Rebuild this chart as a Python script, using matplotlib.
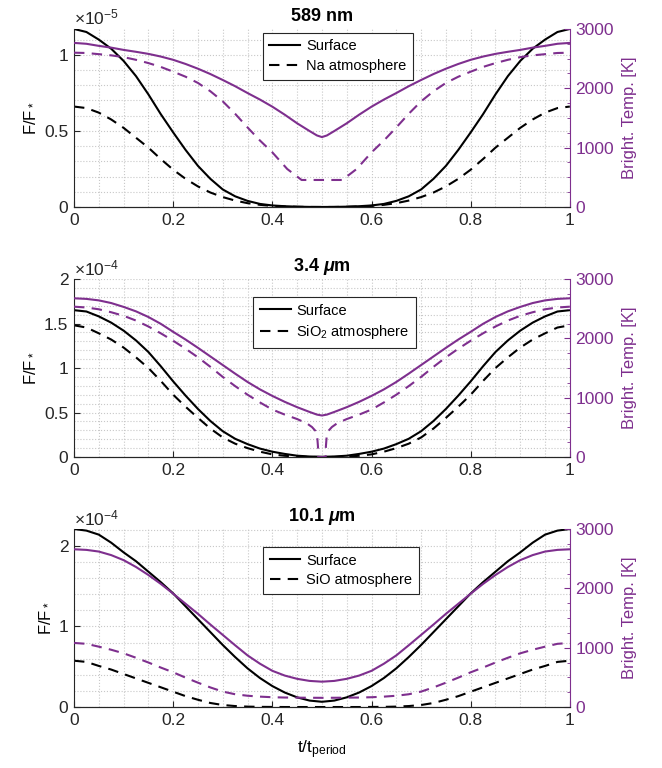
import numpy as np
import matplotlib
matplotlib.use('Agg')
import matplotlib.pyplot as plt
from matplotlib.ticker import FixedLocator, MultipleLocator

plt.rcParams['font.family'] = ['Liberation Sans', 'DejaVu Sans']
plt.rcParams['mathtext.fontset'] = 'custom'
plt.rcParams['mathtext.rm'] = 'Liberation Sans'
plt.rcParams['mathtext.it'] = 'Liberation Sans:italic'
plt.rcParams['mathtext.bf'] = 'Liberation Sans:bold'
plt.rcParams['mathtext.bfit'] = 'Liberation Sans:italic:bold'

PURPLE = '#7E2F8E'

# phase points for the first half of the orbit (curves are symmetric about 0.5)
t = [0, 0.025, 0.05, 0.075, 0.1, 0.125, 0.15, 0.175, 0.2, 0.225, 0.25,
     0.275, 0.3, 0.325, 0.35, 0.375, 0.4, 0.425, 0.45, 0.475, 0.5]

# ---- 589 nm (flux in units of 1e-5, temperature in K)
surf_na = [1.17, 1.15, 1.10, 1.04, 0.96, 0.86, 0.74, 0.61, 0.49, 0.375, 0.27,
           0.185, 0.115, 0.07, 0.04, 0.02, 0.01, 0.005, 0.002, 0.0005, 0.0]
atm_na = [0.66, 0.65, 0.62, 0.575, 0.52, 0.455, 0.39, 0.315, 0.245, 0.185, 0.135,
          0.095, 0.065, 0.042, 0.025, 0.014, 0.007, 0.003, 0.001, 0.0, 0.0]
t_tbs_na = [0, 0.025, 0.05, 0.075, 0.1, 0.125, 0.15, 0.175, 0.2, 0.225, 0.25,
            0.275, 0.3, 0.325, 0.35, 0.375, 0.4, 0.425, 0.45, 0.475, 0.49, 0.5]
tbs_na = [2765, 2750, 2715, 2685, 2647, 2615, 2580, 2535, 2480, 2410, 2330,
          2240, 2140, 2035, 1920, 1810, 1690, 1555, 1410, 1280, 1205, 1178]
t_tba_na = [0, 0.025, 0.05, 0.075, 0.1, 0.125, 0.15, 0.175, 0.2, 0.225, 0.25,
            0.275, 0.3, 0.325, 0.35, 0.375, 0.4, 0.43, 0.459, 0.5]
tba_na = [2600, 2595, 2575, 2555, 2525, 2480, 2425, 2360, 2280, 2195, 2090,
          1950, 1780, 1570, 1340, 1120, 920, 640, 455, 455]

# ---- 3.4 um (flux in units of 1e-4)
surf_sio2 = [1.65, 1.635, 1.58, 1.51, 1.42, 1.31, 1.18, 1.02, 0.85, 0.69, 0.54,
             0.405, 0.29, 0.205, 0.145, 0.095, 0.06, 0.035, 0.015, 0.006, 0.003]
atm_sio2 = [1.48, 1.455, 1.39, 1.32, 1.23, 1.12, 1.0, 0.855, 0.70, 0.565, 0.44,
            0.32, 0.22, 0.15, 0.10, 0.06, 0.03, 0.014, 0.005, 0.001, 0.0]
t_tbs_sio2 = [0, 0.025, 0.05, 0.075, 0.1, 0.125, 0.15, 0.175, 0.2, 0.225, 0.25,
              0.275, 0.3, 0.325, 0.35, 0.375, 0.4, 0.425, 0.45, 0.475, 0.49, 0.5]
tbs_sio2 = [2675, 2665, 2640, 2595, 2530, 2455, 2360, 2245, 2110, 1980, 1840,
            1695, 1550, 1405, 1265, 1140, 1030, 930, 840, 760, 715, 700]
t_tba_sio2 = [0, 0.025, 0.05, 0.075, 0.1, 0.125, 0.15, 0.175, 0.2, 0.225, 0.25,
              0.275, 0.3, 0.325, 0.35, 0.375, 0.4, 0.425, 0.45, 0.47, 0.48, 0.487,
              0.4905, 0.492, 0.4925, 0.5]
tba_sio2 = [2534, 2520, 2490, 2440, 2380, 2300, 2200, 2085, 1960, 1825, 1680,
            1520, 1350, 1195, 1050, 920, 800, 715, 640, 565, 505, 440,
            340, 180, 0, 0]

# ---- 10.1 um (flux in units of 1e-4)
surf_sio = [2.21, 2.19, 2.14, 2.04, 1.92, 1.81, 1.68, 1.55, 1.41, 1.25, 1.09,
            0.93, 0.77, 0.62, 0.48, 0.36, 0.26, 0.18, 0.12, 0.08, 0.065]
atm_sio = [0.575, 0.56, 0.51, 0.465, 0.41, 0.355, 0.30, 0.245, 0.19, 0.135, 0.09,
           0.05, 0.025, 0.012, 0.005, 0.002, 0.001, 0.0, 0.0, 0.0, 0.0]
tbs_sio = [2658, 2648, 2620, 2560, 2475, 2360, 2225, 2075, 1910, 1740, 1570,
           1390, 1215, 1040, 870, 730, 610, 530, 475, 440, 427]
tba_sio = [1080, 1065, 1017, 965, 905, 830, 750, 665, 585, 495, 410,
           330, 260, 215, 190, 175, 165, 160, 158, 156, 155]


def mirror(x, y):
    # second half of the orbit is the mirror image of the first
    xs = list(x) + [1 - v for v in x[-2::-1]]
    ys = list(y) + list(y[-2::-1])
    return xs, ys


panels = [
    dict(title='589 nm', exp='-5', ylim=1.17, yticks=[0, 0.5, 1], yminor=0.1,
         ylabels=['0', '0.5', '1'], atm='Na atmosphere', leg=(0.532, 0.978),
         black=[mirror(t, surf_na), mirror(t, atm_na)],
         purple=[mirror(t_tbs_na, tbs_na), mirror(t_tba_na, tba_na)]),
    dict(title=r'3.4 $\mathbfit{\mu}$m', exp='-4', ylim=2.0,
         yticks=[0, 0.5, 1, 1.5, 2], yminor=0.1,
         ylabels=['0', '0.5', '1', '1.5', '2'], atm=r'SiO$_2$ atmosphere',
         leg=(0.526, 0.899),
         black=[mirror(t, surf_sio2), mirror(t, atm_sio2)],
         purple=[mirror(t_tbs_sio2, tbs_sio2), mirror(t_tba_sio2, tba_sio2)]),
    dict(title=r'10.1 $\mathbfit{\mu}$m', exp='-4', ylim=2.21, yticks=[0, 1, 2],
         yminor=0.2, ylabels=['0', '1', '2'], atm='SiO atmosphere',
         leg=(0.538, 0.899),
         black=[mirror(t, surf_sio), mirror(t, atm_sio)],
         purple=[mirror(t, tbs_sio), mirror(t, tba_sio)]),
]

fig = plt.figure(figsize=(6.62, 7.68), dpi=100)
bottoms = [0.7305, 0.4049, 0.0794]
dash = (5, 3.5)
TXT = '#262626'

for p, b in zip(panels, bottoms):
    ax = fig.add_axes([0.1118, b, 0.749, 0.2318])
    ax2 = ax.twinx()

    (x1, y1), (x2, y2) = p['black']
    l1, = ax.plot(x1, y1, color='k', lw=1.5, label='Surface')
    l2, = ax.plot(x2, y2, color='k', lw=1.5, ls='--', dashes=dash, label=p['atm'])
    (x3, y3), (x4, y4) = p['purple']
    ax2.plot(x3, y3, color=PURPLE, lw=1.5)
    ax2.plot(x4, y4, color=PURPLE, lw=1.5, ls='--', dashes=dash)

    ax.set_xlim(0, 1)
    ax.set_ylim(0, p['ylim'])
    ax.xaxis.set_major_locator(FixedLocator([0, 0.2, 0.4, 0.6, 0.8, 1]))
    ax.set_xticklabels(['0', '0.2', '0.4', '0.6', '0.8', '1'])
    ax.xaxis.set_minor_locator(MultipleLocator(0.05))
    ax.set_yticks(p['yticks'])
    ax.set_yticklabels(p['ylabels'])
    ax.yaxis.set_minor_locator(MultipleLocator(p['yminor']))
    ax.grid(True, which='both', ls=':', color='#c8c8c8', lw=0.8)
    ax.set_axisbelow(True)
    ax.tick_params(which='major', direction='in', length=4, labelsize=12.5,
                   colors=TXT, top=False, right=False, pad=4)
    ax.tick_params(which='minor', length=0)
    for s in ['top', 'right']:
        ax.spines[s].set_visible(False)
    ax.spines['left'].set_color(TXT)
    ax.spines['bottom'].set_color(TXT)
    ax.set_ylabel(r'F/F$_*$', fontsize=12, labelpad=5)
    ax.set_title(p['title'], fontsize=13, fontweight='bold', pad=6)
    ax.text(0, 1.006, r'$\times10^{' + p['exp'] + '}$', transform=ax.transAxes,
            ha='left', va='bottom', fontsize=12.5, color=TXT)

    ax2.set_ylim(0, 3000)
    ax2.set_yticks([0, 1000, 2000, 3000])
    ax2.yaxis.set_minor_locator(MultipleLocator(250))
    ax2.tick_params(axis='y', which='major', direction='in', length=4,
                    labelsize=12.5, colors=PURPLE, pad=4)
    ax2.tick_params(axis='y', which='minor', direction='in', length=2, colors=PURPLE)
    for s in ['top', 'left']:
        ax2.spines[s].set_visible(False)
    ax2.spines['right'].set_color(PURPLE)
    ax2.spines['bottom'].set_color(TXT)
    ax2.set_ylabel('Bright. Temp. [K]', fontsize=12, color=PURPLE, labelpad=6)

    leg = ax2.legend([l1, l2], ['Surface', p['atm']], loc='upper center',
                     bbox_to_anchor=p['leg'], fontsize=10.5, frameon=True,
                     fancybox=False, framealpha=1, edgecolor=TXT,
                     handlelength=2.1, borderpad=0.45, labelspacing=0.4,
                     handletextpad=0.4, borderaxespad=0)
    leg.get_frame().set_linewidth(0.8)

    if p is panels[-1]:
        ax.set_xlabel(r't/t$_{\rm period}$', fontsize=12.5, labelpad=8)

fig.savefig('out.png', dpi=100)
